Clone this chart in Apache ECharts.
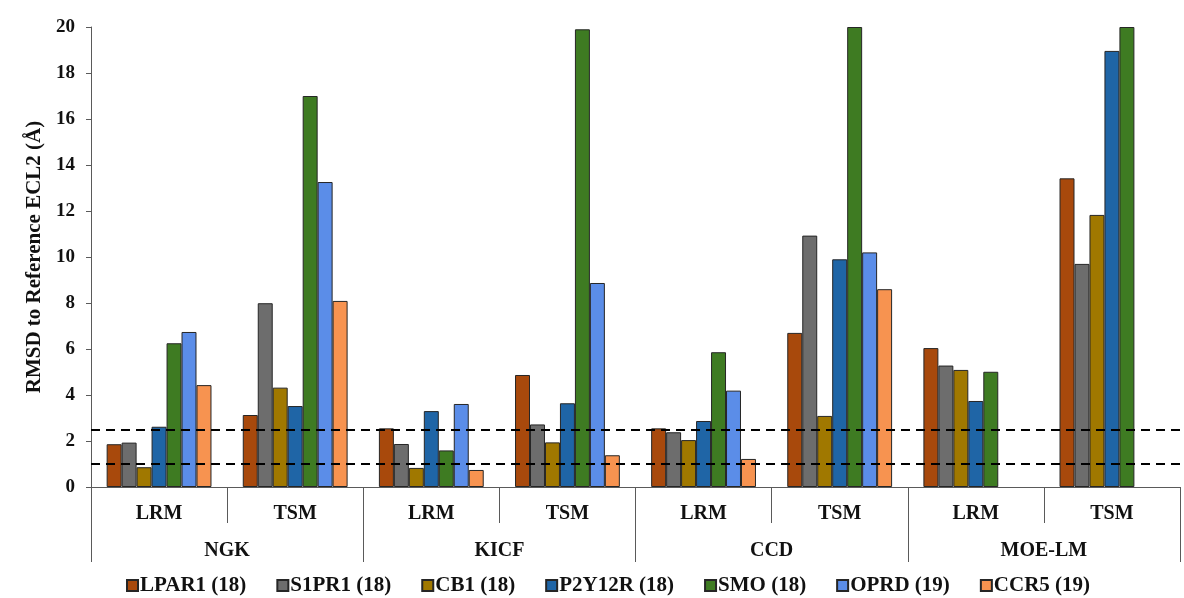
<!DOCTYPE html>
<html>
<head>
<meta charset="utf-8">
<script src="https://cdn.jsdelivr.net/npm/echarts@6/dist/echarts.min.js"></script>
<style>html,body{margin:0;padding:0;background:#fff;}#c{width:1184px;height:598px;}</style>
</head>
<body>
<div id="c"></div>
<script>
const subCategories = ['LRM','TSM','LRM','TSM','LRM','TSM','LRM','TSM'];
const groups = ['NGK','KICF','CCD','MOE-LM'];
const seriesNames = ['LPAR1 (18)','S1PR1 (18)','CB1 (18)','P2Y12R (18)','SMO (18)','OPRD (19)','CCR5 (19)'];
const LPAR1 = [1.86, 3.13, 2.55, 4.87, 2.55, 6.70, 6.04, 13.42];
const S1PR1 = [1.93, 7.99, 1.87, 2.72, 2.38, 10.93, 5.28, 9.70];
const CB1   = [0.86, 4.32, 0.83, 1.94, 2.04, 3.09, 5.09, 11.83];
const P2Y12R= [2.62, 3.52, 3.30, 3.64, 2.87, 9.90, 3.74, 18.96];
const SMO   = [6.25, 17.00, 1.59, 19.90, 5.86, 20.00, 5.01, 20.00];
const OPRD  = [6.74, 13.26, 3.61, 8.87, 4.19, 10.20, null, null];
const CCR5  = [4.43, 8.09, 0.74, 1.38, 1.22, 8.60, null, null];
const thresholds = [2.5, 1.0];
const yTicks = {min: 0, max: 20, interval: 2};

const colors = ['#A8490C','#6D6D6D','#A07800','#1F65A6','#3E7B22','#5B8DE8','#F79350'];
const values = [LPAR1, S1PR1, CB1, P2Y12R, SMO, OPRD, CCR5];
const font = '"Liberation Serif", "DejaVu Serif", serif';
const axisColor = '#5a5a5a';

const series = seriesNames.map((n, i) => ({
  name: n,
  type: 'bar',
  xAxisIndex: 0,
  data: values[i],
  barGap: '0%',
  barCategoryGap: '23%',
  itemStyle: {color: colors[i], borderColor: '#262626', borderWidth: 1},
  emphasis: {disabled: true}
}));
series.push({
  name: 'thresholds',
  type: 'line',
  xAxisIndex: 0,
  data: [],
  z: 20,
  markLine: {
    silent: true,
    symbol: 'none',
    label: {show: false},
    lineStyle: {color: '#000', type: [9, 6], width: 2},
    data: thresholds.map(v => ({yAxis: v}))
  }
});

const chart = echarts.init(document.getElementById('c'), null, {renderer: 'canvas'});
chart.setOption({
  animation: false,
  backgroundColor: '#fff',
  grid: {left: 91, right: 4, top: 27, bottom: 111, containLabel: false},
  legend: {
    data: seriesNames,
    bottom: 2,
    left: 121,
    padding: [0, 5, 0, 5],
    icon: 'rect',
    itemWidth: 11,
    itemHeight: 11,
    itemGap: 30,
    textStyle: {fontFamily: font, fontWeight: 'bold', fontSize: 21, color: '#111', padding: [0,0,0,-3]}
  },
  xAxis: [
    {
      type: 'category',
      data: subCategories,
      position: 'bottom',
      axisLine: {show: true, lineStyle: {color: axisColor, width: 1}},
      axisTick: {show: true, interval: 0, length: 36, lineStyle: {color: axisColor}},
      axisLabel: {interval: 0, margin: 17, fontFamily: font, fontWeight: 'bold', fontSize: 20, color: '#111'},
      splitLine: {show: false}
    },
    {
      type: 'category',
      data: groups,
      position: 'bottom',
      axisLine: {show: true, lineStyle: {color: axisColor, width: 1}},
      axisTick: {show: true, interval: 0, length: 75, lineStyle: {color: axisColor}},
      axisLabel: {interval: 0, margin: 54, fontFamily: font, fontWeight: 'bold', fontSize: 20, color: '#111'},
      splitLine: {show: false}
    }
  ],
  yAxis: {
    type: 'value',
    min: yTicks.min,
    max: yTicks.max,
    interval: yTicks.interval,
    name: 'RMSD to Reference ECL2 (Å)',
    nameLocation: 'middle',
    nameGap: 41,
    nameTextStyle: {fontFamily: font, fontWeight: 'bold', fontSize: 21, color: '#111'},
    axisLine: {show: true, lineStyle: {color: axisColor, width: 1}},
    axisTick: {show: true, inside: false, length: 5, lineStyle: {color: axisColor}},
    axisLabel: {margin: 16, fontFamily: font, fontWeight: 'bold', fontSize: 19, color: '#111'},
    splitLine: {show: false}
  },
  series: series
});
</script>
</body>
</html>
